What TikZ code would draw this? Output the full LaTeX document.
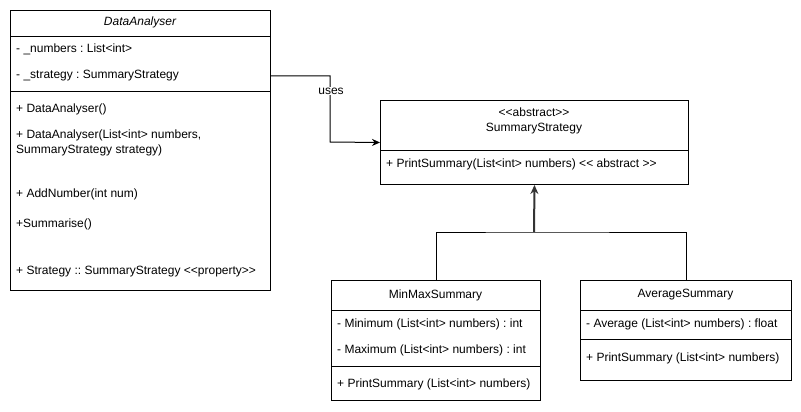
\documentclass[tikz,border=0pt]{standalone}
\usepackage{fontspec}
\setmainfont{Liberation Sans}[Ligatures=TeXOff]
\usetikzlibrary{arrows.meta}
\frenchspacing

\begin{document}
\begin{tikzpicture}[
    x=1pt, y=-1pt,
    every node/.style={font=\fontsize{12}{15}\selectfont},
    cbox/.style={draw, line width=1pt, anchor=north west, inner sep=0pt},
    mtext/.style={anchor=west, inner sep=0pt},
    ttext/.style={inner sep=0pt},
    sep/.style={line width=1pt},
    usesarrow/.style={line width=1pt, -{Stealth[length=8pt, width=7pt]}},
    inhline/.style={line width=1pt},
    inharrow/.style={line width=2pt, black!80, -{Stealth[length=9pt, width=8pt]}},
]
\useasboundingbox (0,0) rectangle (801,412);

% ================================================================
% DataAnalyser
% ================================================================
\node[cbox, minimum width=260pt, minimum height=280pt] (da) at (10,10) {};
\draw[sep] (da.west |- 0,37) -- (da.east |- 0,37);
\draw[sep] (da.west |- 0,92) -- (da.east |- 0,92);
\node[ttext] (daTitle) at (140,22) {\itshape DataAnalyser};
\node[mtext] (daNum) at (16,49) {- \_numbers : List<int>};
\node[mtext] (daStrat) at (16,76) {- \_strategy : SummaryStrategy};
\node[mtext] (daCtor) at (16,109) {+ DataAnalyser()};
\node[mtext, align=left] (daCtorArgs) at (16,143) {+ DataAnalyser(List<int> numbers,\\SummaryStrategy strategy)};
\node[mtext] (daAdd) at (16,194) {+ AddNumber(int num)};
\node[mtext] (daSum) at (16,224) {+Summarise()};
\node[mtext] (daProp) at (16,272) {+ Strategy :: SummaryStrategy <<property>>};

% ================================================================
% SummaryStrategy (abstract)
% ================================================================
\node[cbox, minimum width=308pt, minimum height=84pt] (ss) at (380,100) {};
\draw[sep] (ss.west |- 0,150) -- (ss.east |- 0,150);
\node[ttext, align=center] (ssTitle) at (534,121) {<<abstract>>\\SummaryStrategy};
\node[mtext] (ssPrint) at (386,164) {+ PrintSummary(List<int> numbers) << abstract >>};

% ================================================================
% MinMaxSummary
% ================================================================
\node[cbox, minimum width=209pt, minimum height=120pt] (mm) at (331,280) {};
\draw[sep] (mm.west |- 0,310) -- (mm.east |- 0,310);
\draw[sep] (mm.west |- 0,366) -- (mm.east |- 0,366);
\node[ttext] (mmTitle) at (435.5,295) {MinMaxSummary};
\node[mtext] (mmMin) at (337,324) {- Minimum (List<int> numbers) : int};
\node[mtext] (mmMax) at (337,350) {- Maximum (List<int> numbers) : int};
\node[mtext] (mmPrint) at (337,384) {+ PrintSummary (List<int> numbers)};

% ================================================================
% AverageSummary
% ================================================================
\node[cbox, minimum width=211pt, minimum height=100pt] (avg) at (580,280) {};
\draw[sep] (avg.west |- 0,310) -- (avg.east |- 0,310);
\draw[sep] (avg.west |- 0,339) -- (avg.east |- 0,339);
\node[ttext] (avgTitle) at (685.5,295) {AverageSummary};
\node[mtext] (avgAvg) at (586,324) {- Average (List<int> numbers) : float};
\node[mtext] (avgPrint) at (586,358) {+ PrintSummary (List<int> numbers)};

% ================================================================
% Connectors
% ================================================================
\coordinate (usesBend) at (330,142);
\draw[usesarrow] (da.east |- daStrat) -| (usesBend) -- (ss.west);
\node[fill=white, inner sep=1pt] (usesLbl) at (331,91) {uses};

\coordinate (inhJoin) at (534,232);
\draw[inhline] (mm.north) |- (inhJoin) -| (avg.north);
\draw[inharrow] (inhJoin) -- (ss.south);

\end{tikzpicture}
\end{document}
